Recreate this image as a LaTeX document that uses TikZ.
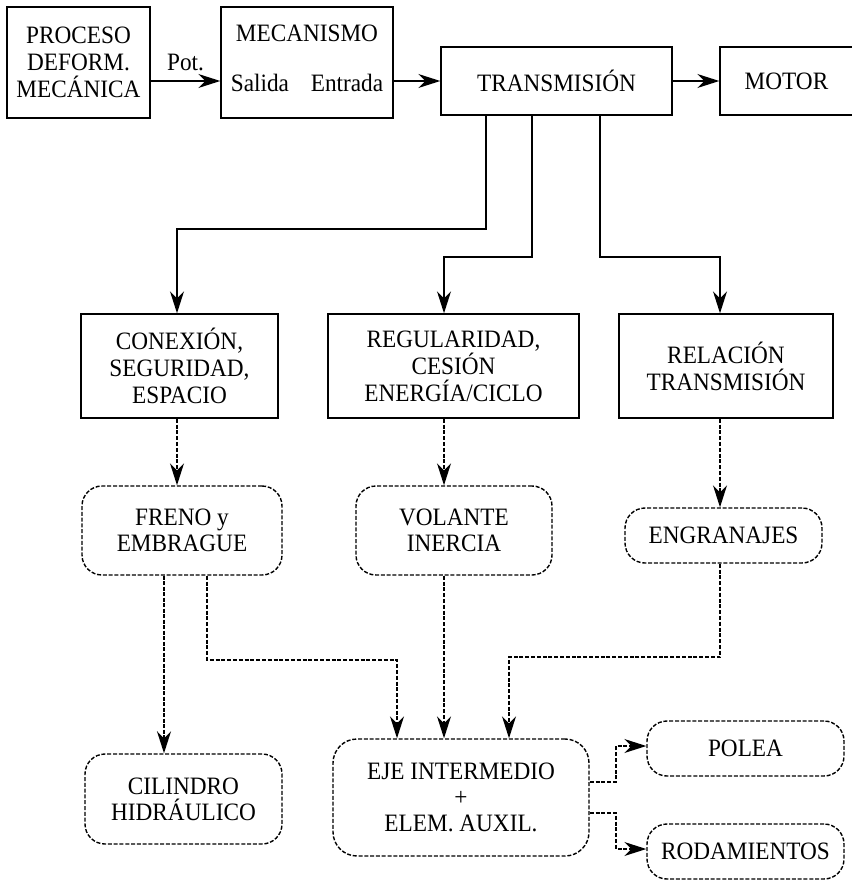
\documentclass[tikz,border=0pt]{standalone}
\usepackage{fontspec}
\setmainfont{Liberation Serif}[FakeStretch=0.93]
\usetikzlibrary{arrows.meta}
\begin{document}
\begin{tikzpicture}[x=1pt,y=-1pt,
  lbl/.style={font=\fontsize{25}{27}\selectfont, align=center, inner sep=0pt},
  box/.style={draw, line width=1.4pt, lbl},
  rbox/.style={draw, line width=1.4pt, dash pattern=on 4pt off 1.8pt,
    rounded corners=20pt, lbl, font=\fontsize{25}{26}\selectfont},
  tip/.style={-{Stealth[length=22pt,width=14pt,inset=7pt]}},
  arr/.style={line width=1.4pt, tip},
  darr/.style={line width=1.4pt, dash pattern=on 4pt off 1.8pt, tip},
  darrb/.style={line width=2pt, dash pattern=on 4pt off 1.5pt, tip}]
\useasboundingbox (0,0) rectangle (851,880);

% top row
\node[box, minimum width=143pt, minimum height=111pt] (proc) at (78.5,62.5) {PROCESO\\DEFORM.\\MECÁNICA};
\node[box, minimum width=172pt, minimum height=111pt] (mec) at (307,62.5) {};
\node[lbl] (mectitle) at (307,33) {MECANISMO};
\node[lbl] (salida) at (260,83) {Salida};
\node[lbl] (entrada) at (347,83) {Entrada};
\node[box, minimum width=231pt, minimum height=68pt] (trans) at (556.5,81) {TRANSMISIÓN};
\node[box, minimum width=133pt, minimum height=68pt] (motor) at (786.5,81) {MOTOR};

% functions
\node[box, minimum width=197pt, minimum height=104pt] (conex) at (179.5,366) {CONEXIÓN,\\SEGURIDAD,\\ESPACIO};
\node[box, minimum width=251pt, minimum height=104pt] (regul) at (453.5,366) {REGULARIDAD,\\CESIÓN\\ENERGÍA/CICLO};
\node[box, minimum width=214pt, minimum height=104pt] (relac) at (726,366) {RELACIÓN\\TRANSMISIÓN};

% elements
\node[rbox, minimum width=200pt, minimum height=89pt] (freno) at (182,530.5) {FRENO y\\EMBRAGUE};
\node[rbox, minimum width=196pt, minimum height=89pt] (volante) at (454,530.5) {VOLANTE\\INERCIA};
\node[rbox, minimum width=197pt, minimum height=55pt] (engr) at (723.5,535.5) {ENGRANAJES};
\node[rbox, minimum width=197pt, minimum height=90pt] (cil) at (183.5,799) {CILINDRO\\HIDRÁULICO};
\node[rbox, rounded corners=24pt, minimum width=256pt, minimum height=117pt] (eje) at (461,797.5) {EJE INTERMEDIO\\+\\ELEM. AUXIL.};
\node[rbox, minimum width=197pt, minimum height=55pt] (polea) at (745.5,748.5) {POLEA};
\node[rbox, minimum width=197pt, minimum height=55pt] (rod) at (745.5,851.5) {RODAMIENTOS};

% bends
\coordinate (b1) at (486,229);
\coordinate (b2) at (532,257);
\coordinate (b3) at (600,257);
\coordinate (j1) at (397,660);
\coordinate (j2) at (509,657);
\coordinate (p1) at (616,746);
\coordinate (p2) at (616,849);

% solid connectors
\draw[arr] (proc.east |- trans.west) -- (mec.west |- trans.west)
  node[midway, above=9pt, lbl] {Pot.};
\draw[arr] (mec.east |- trans.west) -- (trans.west);
\draw[arr] (trans.east) -- (motor.west);
\draw[arr] (trans.south -| b1) -- (b1) -| ([xshift=-2.5pt]conex.north);
\draw[arr] (trans.south -| b2) -- (b2) -| ([xshift=-9.5pt]regul.north);
\draw[arr] (trans.south -| b3) -- (b3) -| ([xshift=-6pt]relac.north);

% dashed connectors
\draw[darr] ([xshift=-2.5pt]conex.south) -- ([xshift=-2.5pt]conex.south |- freno.north);
\draw[darr] ([xshift=-9.5pt]regul.south) -- ([xshift=-9.5pt]regul.south |- volante.north);
\draw[darr] ([xshift=-6pt]relac.south) -- ([xshift=-6pt]relac.south |- engr.north);
\draw[darrb] ([xshift=-18pt]freno.south) -- ([xshift=-18pt]freno.south |- cil.north);
\draw[darr] ([xshift=25pt]freno.south) |- (j1) -- (j1 |- eje.north);
\draw[darr] ([xshift=-10pt]volante.south) -- ([xshift=-10pt]volante.south |- eje.north);
\draw[darr] ([xshift=-3.5pt]engr.south) |- (j2) -- (j2 |- eje.north);
\draw[darr] ([yshift=15.5pt]eje.east) -| (p1) -- (p1 -| polea.west);
\draw[darr] ([yshift=-15.5pt]eje.east) -| (p2) -- (p2 -| rod.west);
\end{tikzpicture}
\end{document}
